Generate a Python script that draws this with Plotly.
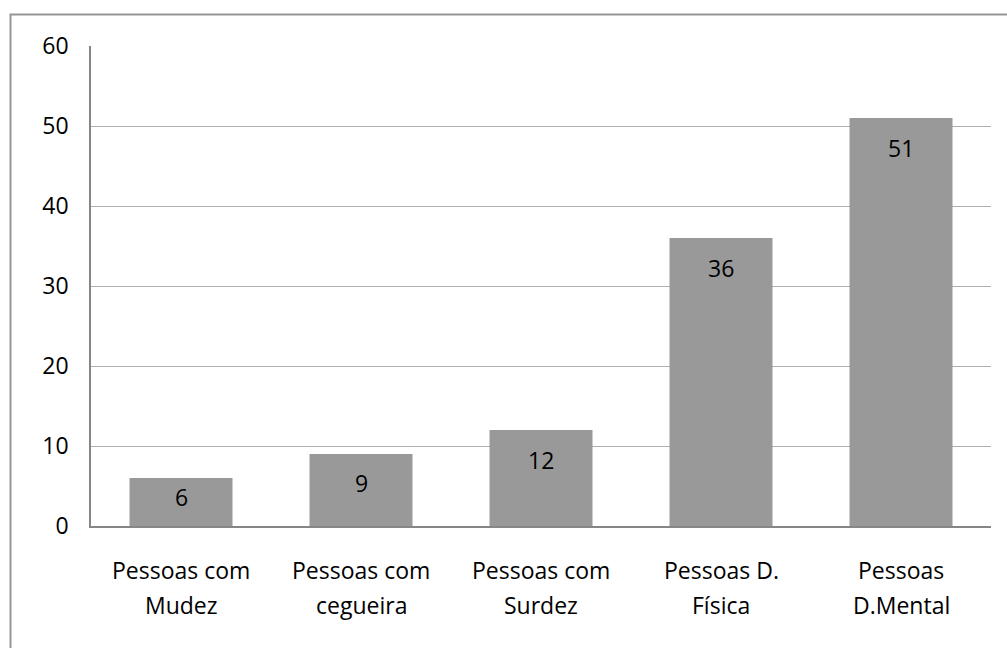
import plotly.graph_objects as go

categories = ["Pessoas com<br>Mudez", "Pessoas com<br>cegueira", "Pessoas com<br>Surdez",
              "Pessoas D.<br>Física", "Pessoas<br>D.Mental"]
values = [6, 9, 12, 36, 51]
y_ticks = [0, 10, 20, 30, 40, 50, 60]

W, H = 1007, 648
ML, MR, MT, MB = 91, 16, 46, 122
pw, ph = W - ML - MR, H - MT - MB

def px_x(x):
    return (x - ML) / pw

def px_y(y):
    return (H - MB - y) / ph

FONT = "Open Sans"
FS = 23

fig = go.Figure()
fig.add_trace(go.Bar(
    x=categories, y=values,
    marker=dict(color="#999999", line=dict(width=0)),
    hoverinfo="skip",
))

for c, v in zip(categories, values):
    fig.add_annotation(
        x=c, y=v, xref="x", yref="y",
        text=str(v), showarrow=False,
        yanchor="middle",
        yshift=-min(30, 0.4 * v * ph / 60),
        font=dict(family=FONT, size=FS, color="#000000"),
    )
    # category label, two lines with Excel-like spacing
    for i, line in enumerate(c.split("<br>")):
        fig.add_annotation(
            x=c, y=px_y(570 + 35 * i), xref="x", yref="paper",
            text=line, showarrow=False, yanchor="middle",
            font=dict(family=FONT, size=FS, color="#000000"),
        )

# outer chart border (extends off page at right/bottom)
fig.add_shape(type="rect", xref="paper", yref="paper",
              x0=px_x(10.5), x1=px_x(W + 10), y0=px_y(14.5), y1=px_y(H + 10),
              line=dict(color="#959595", width=2), fillcolor="rgba(0,0,0,0)", layer="below")

fig.update_layout(
    width=W, height=H,
    margin=dict(l=ML, r=MR, t=MT, b=MB, pad=0),
    paper_bgcolor="white", plot_bgcolor="white",
    showlegend=False,
    bargap=1 - 103 / 180,
    font=dict(family=FONT, size=FS, color="#000000"),
    xaxis=dict(
        showgrid=False, showline=True, linecolor="#868686", linewidth=1.5,
        ticks="", showticklabels=False,
    ),
    yaxis=dict(
        range=[0, 60], tickvals=y_ticks,
        showgrid=True, gridcolor="#b0b0b0", gridwidth=1,
        showline=True, linecolor="#868686", linewidth=1.5,
        zeroline=False, ticks="",
        tickfont=dict(family=FONT, size=FS, color="#000000"),
        ticklabelstandoff=16,
    ),
)

fig.write_html("out.html")
